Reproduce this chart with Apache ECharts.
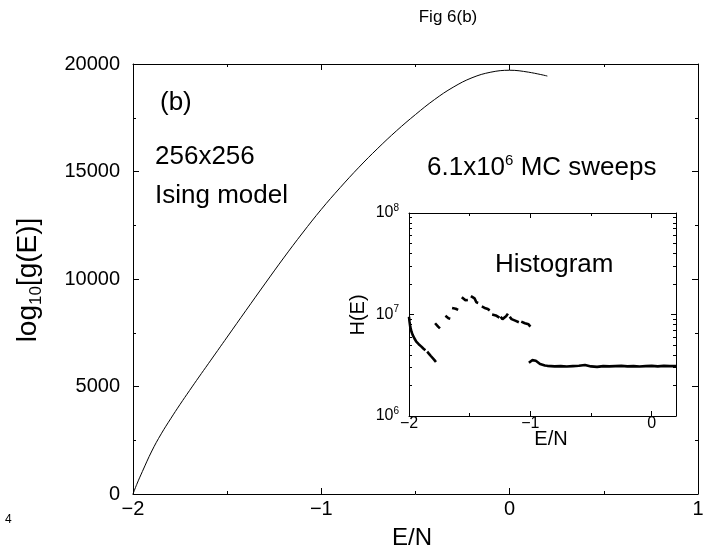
<!DOCTYPE html>
<html><head><meta charset="utf-8">
<script src="https://cdn.jsdelivr.net/npm/echarts@6/dist/echarts.min.js"></script>
<style>html,body{margin:0;padding:0;background:#fff}#c{width:717px;height:556px}</style>
</head><body><div id="c"></div>
<script>
const FONT = '"Liberation Sans", Arial, Helvetica, sans-serif';

// Main curve: log10 g(E) vs E/N
const curveE = [-2.0,-1.98,-1.95,-1.9,-1.85,-1.8,-1.75,-1.7,-1.65,-1.6,-1.55,-1.5,-1.4,-1.3,-1.2,-1.1,-1.0,-0.9,-0.8,-0.7,-0.6,-0.5,-0.4,-0.3,-0.2,-0.1,0,0.1,0.2];
const curveLogG = [0,450,1050,2000,2800,3500,4170,4810,5440,6060,6680,7300,8540,9770,10980,12140,13240,14250,15200,16080,16900,17650,18340,18920,19360,19620,19710,19620,19440];

const mainXTicks = [-2,-1,0,1];
const mainYTicks = [0,5000,10000,15000,20000];

// Inset histogram H(E), in millions; null marks a gap between pieces
const histE = [
 -2.0,-1.996,-1.99,-1.98,-1.97,-1.955,-1.94,-1.92,-1.90,-1.88,-1.865, null,
 -1.85,-1.835,-1.82,-1.805,-1.79,-1.778, null,
 -1.785,-1.775,-1.76,-1.745, null,
 -1.70,-1.69,-1.675,-1.66, null,
 -1.645,-1.63,-1.615,-1.595, null,
 -1.565,-1.55,-1.535,-1.515, null,
 -1.49,-1.475,-1.46,-1.445,-1.43, null,
 -1.40,-1.385,-1.37,-1.35,-1.335, null,
 -1.315,-1.30,-1.285,-1.27,-1.255, null,
 -1.245,-1.23,-1.215,-1.20,-1.185, null,
 -1.17,-1.155,-1.14,-1.125,-1.11,-1.095, null,
 -1.075,-1.06,-1.045,-1.03,-1.015,-1.0, null,
 -1.012,-1.0,-0.985,-0.97,-0.955,-0.94,-0.92,-0.9,-0.88,-0.86,-0.83,-0.8,-0.75,-0.7,-0.65,-0.6,-0.55,-0.5,-0.45,-0.4,-0.35,-0.3,-0.25,-0.2,-0.15,-0.1,-0.05,0,0.05,0.1,0.15,0.2
];
const histHmillions = [
 9.5,8.6,7.6,6.8,6.3,5.8,5.4,5.1,4.85,4.6,4.45, null,
 4.3,4.1,3.9,3.75,3.55,3.4, null,
 8.2,7.9,7.6,7.3, null,
 9.7,9.6,9.2,9.1, null,
 11.6,11.2,11.4,11.1, null,
 14.8,14.5,13.8,13.9, null,
 15.2,14.6,14.4,13.2,13.0, null,
 12.0,11.6,11.5,11.3,11.0, null,
 10.0,9.8,9.8,9.5,9.3, null,
 9.5,9.0,8.9,9.6,10.2, null,
 9.5,9.0,8.8,8.7,8.6,8.4, null,
 8.5,8.6,8.2,8.3,8.0,7.6, null,
 3.35,3.45,3.55,3.6,3.5,3.35,3.25,3.2,3.15,3.12,3.1,3.08,3.1,3.07,3.1,3.13,3.18,3.08,3.05,3.1,3.08,3.1,3.12,3.08,3.1,3.07,3.1,3.12,3.08,3.12,3.1,3.1
];
const insetXTicks = [-2,-1,0];
const insetXMinor = [-1.5,-0.5];
const insetYMinor = [2e6,3e6,4e6,5e6,6e6,7e6,8e6,9e6,2e7,3e7,4e7,5e7,6e7,7e7,8e7,9e7];

const minus = v => (v < 0 ? '\u2212' + Math.abs(v) : String(v));
const black = '#000';

const curveData = curveE.map((e, i) => [e, curveLogG[i]]);
const histData = histE.map((e, i) => (e === null || histHmillions[i] === null) ? ['-', '-'] : [e, histHmillions[i] * 1e6]);

const lineOn = {show: true, onZero: false, lineStyle: {color: black, width: 1}};
const lineOff = {show: false, onZero: false};

function ax(o) {
  return Object.assign({
    type: 'value', splitLine: {show: false}, minorSplitLine: {show: false},
    axisLine: lineOn,
    axisTick: {show: true, inside: true, length: 6, lineStyle: {color: black, width: 1}},
    minorTick: {show: false},
    axisLabel: {show: false}
  }, o);
}

const option = {
  animation: false,
  backgroundColor: '#fff',
  grid: [
    {left: 133, top: 64, width: 565, height: 430},
    {left: 409, top: 213, width: 267, height: 203}
  ],
  xAxis: [
    ax({gridIndex: 0, position: 'bottom', min: -2, max: 1, interval: 1,
      minorTick: {show: true, splitNumber: 2, length: 3, lineStyle: {color: black}},
      axisLabel: {show: true, fontSize: 20, color: black, fontFamily: FONT, margin: 5, formatter: minus}}),
    ax({gridIndex: 0, position: 'top', min: -2, max: 1, interval: 1,
      minorTick: {show: true, splitNumber: 2, length: 3, lineStyle: {color: black}}}),
    ax({gridIndex: 1, position: 'bottom', min: -2, max: 0.2,
      axisTick: {show: true, inside: true, length: 5, customValues: insetXTicks, lineStyle: {color: black}},
      axisLabel: {show: true, customValues: insetXTicks, fontSize: 16, color: black, fontFamily: FONT, margin: 0, formatter: minus}}),
    ax({gridIndex: 1, position: 'top', min: -2, max: 0.2,
      axisTick: {show: true, inside: true, length: 5, customValues: insetXTicks, lineStyle: {color: black}}}),
    ax({gridIndex: 1, position: 'bottom', min: -2, max: 0.2, axisLine: lineOff,
      axisTick: {show: true, inside: true, length: 3, customValues: insetXMinor, lineStyle: {color: black}}}),
    ax({gridIndex: 1, position: 'top', min: -2, max: 0.2, axisLine: lineOff,
      axisTick: {show: true, inside: true, length: 3, customValues: insetXMinor, lineStyle: {color: black}}})
  ],
  yAxis: [
    ax({gridIndex: 0, position: 'left', min: 0, max: 20000, interval: 5000,
      minorTick: {show: true, splitNumber: 2, length: 3, lineStyle: {color: black}},
      axisLabel: {show: true, fontSize: 20, color: black, fontFamily: FONT, margin: 13, formatter: v => String(v)}}),
    ax({gridIndex: 0, position: 'right', min: 0, max: 20000, interval: 5000,
      minorTick: {show: true, splitNumber: 2, length: 3, lineStyle: {color: black}}}),
    ax({gridIndex: 1, type: 'log', logBase: 10, position: 'left', min: 1e6, max: 1e8,
      axisTick: {show: true, inside: true, length: 5, lineStyle: {color: black}},
      axisLabel: {show: true, color: black, fontFamily: FONT, margin: 10,
        formatter: v => '{b|10}{s|' + Math.round(Math.log10(v)) + '}',
        rich: {b: {fontSize: 16, fontFamily: FONT, color: black, lineHeight: 20},
               s: {fontSize: 10, fontFamily: FONT, color: black, verticalAlign: 'top', lineHeight: 12}}}}),
    ax({gridIndex: 1, type: 'log', logBase: 10, position: 'right', min: 1e6, max: 1e8,
      axisTick: {show: true, inside: true, length: 5, lineStyle: {color: black}}}),
    ax({gridIndex: 1, position: 'left', min: 6, max: 8, axisLine: lineOff,
      axisTick: {show: true, inside: true, length: 3, customValues: insetYMinor.map(Math.log10), lineStyle: {color: black}}}),
    ax({gridIndex: 1, position: 'right', min: 6, max: 8, axisLine: lineOff,
      axisTick: {show: true, inside: true, length: 3, customValues: insetYMinor.map(Math.log10), lineStyle: {color: black}}})
  ],
  series: [
    {type: 'line', xAxisIndex: 0, yAxisIndex: 0, data: curveData, showSymbol: false, smooth: 0.4,
      lineStyle: {color: black, width: 1}, silent: true},
    {type: 'line', xAxisIndex: 2, yAxisIndex: 2, data: histData, showSymbol: false, connectNulls: false,
      lineStyle: {color: black, width: 2.6}, silent: true}
  ],
  graphic: [
    {type: 'text', style: {text: 'Fig 6(b)', x: 448, y: 17, align: 'center', verticalAlign: 'middle', fontSize: 17, fontFamily: FONT, fill: black}},
    {type: 'text', style: {text: '(b)', x: 160, y: 103, verticalAlign: 'middle', fontSize: 26, fontFamily: FONT, fill: black}},
    {type: 'text', style: {text: '256x256', x: 155, y: 157, verticalAlign: 'middle', fontSize: 26, fontFamily: FONT, fill: black}},
    {type: 'text', style: {text: 'Ising model', x: 155, y: 196, verticalAlign: 'middle', fontSize: 26, fontFamily: FONT, fill: black}},
    {type: 'text', style: {text: '{a|6.1x10}{s|6}{a| MC sweeps}', x: 427, y: 168, verticalAlign: 'middle',
      rich: {a: {fontSize: 26, fontFamily: FONT, fill: black, lineHeight: 30},
             s: {fontSize: 15, fontFamily: FONT, fill: black, verticalAlign: 'top', lineHeight: 15}}}},
    {type: 'text', style: {text: 'Histogram', x: 495, y: 265, verticalAlign: 'middle', fontSize: 26, fontFamily: FONT, fill: black}},
    {type: 'text', x: 358, y: 315, rotation: Math.PI / 2, style: {text: 'H(E)', x: 0, y: 0, align: 'center', verticalAlign: 'middle', fontSize: 20, fontFamily: FONT, fill: black}},
    {type: 'text', style: {text: 'E/N', x: 551, y: 439, align: 'center', verticalAlign: 'middle', fontSize: 20, fontFamily: FONT, fill: black}},
    {type: 'text', style: {text: 'E/N', x: 412, y: 538, align: 'center', verticalAlign: 'middle', fontSize: 24, fontFamily: FONT, fill: black}},
    {type: 'text', x: 28, y: 280, rotation: Math.PI / 2, style: {text: '{a|log}{s|10}{a|[g(E)]}', x: 0, y: 0, align: 'center', verticalAlign: 'middle',
      rich: {a: {fontSize: 28, fontFamily: FONT, fill: black, lineHeight: 34},
             s: {fontSize: 17, fontFamily: FONT, fill: black, verticalAlign: 'bottom', lineHeight: 17}}}},
    {type: 'text', style: {text: '4', x: 5, y: 520, verticalAlign: 'middle', fontSize: 12, fontFamily: FONT, fill: black}}
  ]
};
const chart = echarts.init(document.getElementById('c'));
chart.setOption(option);
</script>
</body></html>
